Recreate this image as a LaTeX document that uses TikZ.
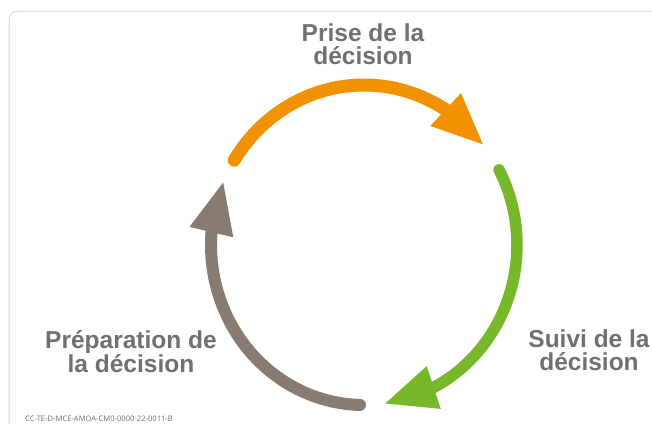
\documentclass[tikz,border=0pt]{standalone}
\usepackage{fontspec}
\setmainfont{Liberation Sans}
\newfontfamily\footfont{Open Sans}
\usetikzlibrary{arrows.meta,bending,calc}
\definecolor{orangeA}{HTML}{F39200}
\definecolor{greenA}{HTML}{76B82A}
\definecolor{brownA}{HTML}{877B72}
\definecolor{textA}{HTML}{707070}
\definecolor{frameA}{HTML}{DADADA}
\begin{document}
\begin{tikzpicture}[x=1pt,y=-1pt,
  cycarrow/.style={line cap=round,
    -{Triangle[length=51pt,width=45pt,line width=0pt,flex]}},
  lbl/.style={anchor=north,inner sep=0pt,align=center,text=textA,
    font=\fontsize{24.5}{22.5}\selectfont\bfseries}]
\useasboundingbox (0,0) rectangle (652,423);
\draw[frameA,line width=1pt,rounded corners=9pt] (9,11) rectangle (690,460);
\coordinate (c) at (364,245);
\coordinate (oS) at ($(c)+(-148:153 and 160)$);
\coordinate (gS) at ($(c)+(-28:153 and 160)$);
\coordinate (bS) at ($(c)+(91.5:153 and 160)$);
\draw[cycarrow,orangeA,line width=13pt] (oS) arc[start angle=-148,end angle=-39,x radius=153,y radius=160];
\draw[cycarrow,greenA,line width=11.5pt] (gS) arc[start angle=-28,end angle=82,x radius=153,y radius=160];
\draw[cycarrow,brownA,line width=12pt] (bS) arc[start angle=91.5,end angle=203,x radius=153,y radius=160];
\node[lbl] (prise) at (363,24) {Prise de la\\décision};
\node[lbl] (prep) at (131,330) {Préparation de\\la décision};
\node[lbl] (suivi) at (589,330) {Suivi de la\\décision};
\node[anchor=base west,inner sep=0pt,text=textA,font=\footfont\fontsize{7.6}{9}\selectfont] (code) at (25,421) {CC-TE-D-MCE-AMOA-CM0-0000-22-0011-B};
\end{tikzpicture}
\end{document}
